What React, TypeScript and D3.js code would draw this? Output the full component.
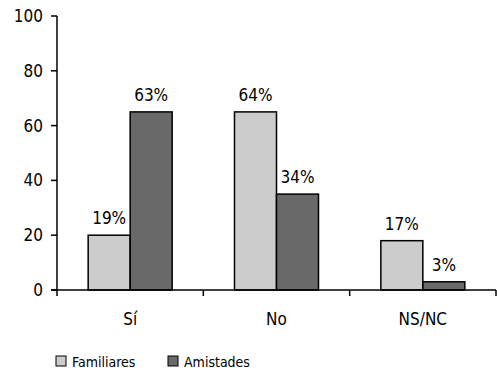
import React from "react";
import * as d3 from "d3";

const categories = ["Sí", "No", "NS/NC"];
const seriesNames = ["Familiares", "Amistades"];
const familiares = [20, 65, 18];
const amistades = [65, 35, 3];
const familiaresLabels = ["19%", "64%", "17%"];
const amistadesLabels = ["63%", "34%", "3%"];
const yTicks = [0, 20, 40, 60, 80, 100];
const colors = ["#cccccc", "#696969"];

export default function App() {
  const W = 497, H = 370;
  const left = 57, right = 496, top = 16, bottom = 290;
  const x = d3.scaleBand<string>().domain(categories).range([left, right]).paddingInner(0).paddingOuter(0);
  const y = d3.scaleLinear().domain([0, 100]).range([bottom, top]);
  const bw = 42;
  const font = "'DejaVu Sans Condensed', 'DejaVu Sans', sans-serif";
  const series = [familiares, amistades];
  const labels = [familiaresLabels, amistadesLabels];
  const edges = [left, ...categories.map((c) => (x(c) as number) + x.bandwidth())];
  return (
    <svg width={W} height={H} style={{ position: "absolute", left: 0, top: 0 }} fontFamily={font}>
      {series.map((vals, si) =>
        categories.map((c, i) => {
          const cx = (x(c) as number) + x.bandwidth() / 2;
          const bx = cx - bw + si * bw;
          return (
            <g key={`${si}-${i}`}>
              <rect x={bx} y={y(vals[i])} width={bw} height={y(0) - y(vals[i])} fill={colors[si]} stroke="#000" strokeWidth={1.5} />
              <text x={bx + bw / 2} y={y(vals[i]) - 11} textAnchor="middle" fontSize={17} fill="#000">{labels[si][i]}</text>
            </g>
          );
        })
      )}
      <line x1={left} x2={left} y1={top} y2={bottom + 6} stroke="#000" strokeWidth={1.5} />
      <line x1={left - 6} x2={right} y1={bottom} y2={bottom} stroke="#000" strokeWidth={1.5} />
      {yTicks.map((t) => (
        <g key={t}>
          <line x1={left - 6} x2={left} y1={y(t)} y2={y(t)} stroke="#000" strokeWidth={1.5} />
          <text x={43} y={y(t) + 6} textAnchor="end" fontSize={17} fill="#000">{t}</text>
        </g>
      ))}
      {edges.slice(1).map((e, i) => (
        <line key={i} x1={e} x2={e} y1={bottom} y2={bottom + 6} stroke="#000" strokeWidth={1.5} />
      ))}
      {categories.map((c) => (
        <text key={c} x={(x(c) as number) + x.bandwidth() / 2} y={325} textAnchor="middle" fontSize={17} fill="#000">{c}</text>
      ))}
      {seriesNames.map((n, i) => (
        <g key={n} transform={`translate(${56 + i * 112},356)`}>
          <rect x={0} y={0} width={10} height={10} fill={colors[i]} stroke="#000" strokeWidth={1} />
          <text x={16} y={10.5} fontSize={14} fill="#000">{n}</text>
        </g>
      ))}
    </svg>
  );
}
